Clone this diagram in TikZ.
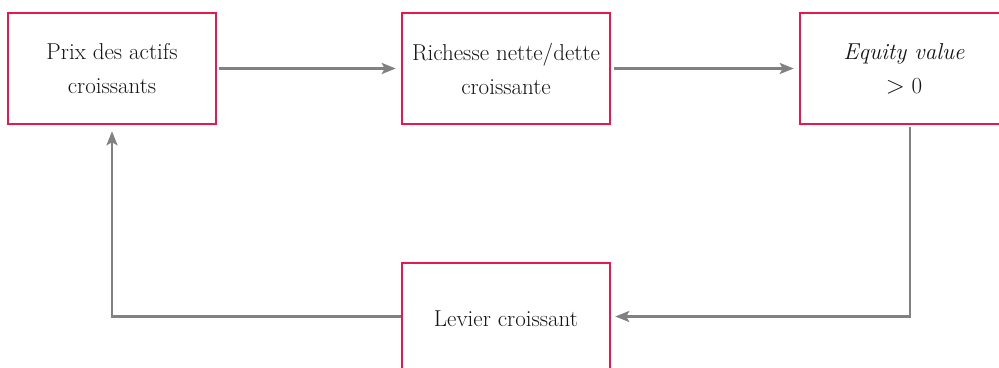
\documentclass[tikz,border=0pt]{standalone}
\usetikzlibrary{arrows.meta}
\definecolor{boxred}{HTML}{E5194B}
\definecolor{arrgray}{HTML}{808183}
\begin{document}
\begin{tikzpicture}[x=1pt,y=1pt,
  box/.style={draw=boxred, line width=2.5pt, minimum width=208pt, minimum height=111pt,
    align=center, inner sep=0pt, font=\fontsize{23}{34}\selectfont, text=black!92},
  conn/.style={draw=arrgray, line width=2.4pt, -{Stealth[length=14pt,width=11pt,inset=3pt]}}]
\useasboundingbox (0,0) rectangle (999,367);
\clip (0,0) rectangle (999,367);
\node[box] (b1) at (112,298.5) {Prix des actifs\\croissants};
\node[box] (b2) at (506,298.5) {Richesse nette/dette\\croissante};
\node[box] (b3) at (904,298.5) {\textit{Equity value}\\$>$ 0};
\node[box, anchor=north] (b4) at (506,105) {Levier croissant};
\path (b1.east) ++(2,0) coordinate (a1s);
\path (b2.west) ++(-5,0) coordinate (a1e);
\draw[conn] (a1s) -- (a1e);
\path (b2.east) ++(3,0) coordinate (a2s);
\path (b3.west) ++(-5,0) coordinate (a2e);
\draw[conn] (a2s) -- (a2e);
\coordinate (r1) at (910,240);
\coordinate (r2) at (910,50.5);
\path (b4.east) ++(4,0) coordinate (r3);
\draw[conn] (r1) -- (r2) -- (r3 |- r2);
\coordinate (l1) at (112,50.5);
\path (b1.south) ++(0,-6) coordinate (l2);
\draw[conn] (b4.west |- l1) -- (l1) -- (l2);
\end{tikzpicture}
\end{document}
